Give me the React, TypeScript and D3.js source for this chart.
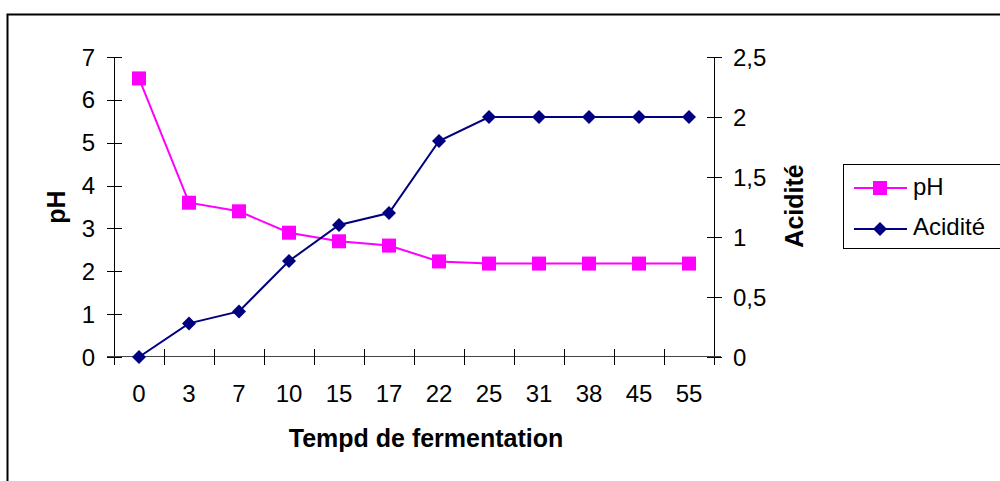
import React, {useEffect, useRef} from 'react';
import * as d3 from 'd3';

const width = 1000;
const height = 481;

const days = ['0', '3', '7', '10', '15', '17', '22', '25', '31', '38', '45', '55'];
const phValues = [6.5, 3.6, 3.4, 2.9, 2.7, 2.6, 2.23, 2.18, 2.18, 2.18, 2.18, 2.18];
const acidValues = [0, 0.28, 0.38, 0.8, 1.1, 1.2, 1.8, 2, 2, 2, 2, 2];
const phTicks = [0, 1, 2, 3, 4, 5, 6, 7];
const acidTicks = [0, 0.5, 1, 1.5, 2, 2.5];

const PINK = '#FF00FF';
const NAVY = '#000080';
const FONT = '"Liberation Sans", Arial, sans-serif';
const FS = 24;

const App = () => {
    const ref = useRef<SVGSVGElement>(null);

    useEffect(() => {
        const svg = d3.select(ref.current);
        svg.selectAll('*').remove();

        const left = 114, right = 714, top = 57, bottom = 357;

        const x = d3.scaleBand().domain(days).range([left, right]);
        const yPh = d3.scaleLinear().domain([0, 7]).range([bottom, top]);
        const yAc = d3.scaleLinear().domain([0, 2.5]).range([bottom, top]);

        // chart frame (cut off right and bottom)
        svg.append('path')
            .attr('d', `M7.5,${height + 2} L7.5,14.5 L${width + 2},14.5`)
            .attr('fill', 'none')
            .attr('stroke', '#000')
            .attr('stroke-width', 2);

        const cx = (d: string) => (x(d) as number) + x.bandwidth() / 2;

        // left axis
        const gl = svg.append('g');
        gl.append('line').attr('x1', left + 0.5).attr('x2', left + 0.5).attr('y1', top).attr('y2', bottom + 8)
            .attr('stroke', '#000');
        phTicks.forEach(t => {
            gl.append('line').attr('x1', left - 7).attr('x2', left + 8)
                .attr('y1', Math.round(yPh(t)) + 0.5).attr('y2', Math.round(yPh(t)) + 0.5)
                .attr('stroke', '#000');
            gl.append('text').attr('x', 95).attr('y', yPh(t) + 8.5)
                .attr('text-anchor', 'end').attr('font-size', FS).attr('font-family', FONT)
                .text(String(t));
        });

        // right axis
        const gr = svg.append('g');
        gr.append('line').attr('x1', right + 0.5).attr('x2', right + 0.5).attr('y1', top).attr('y2', bottom + 8)
            .attr('stroke', '#000');
        acidTicks.forEach(t => {
            gr.append('line').attr('x1', right - 7).attr('x2', right + 8)
                .attr('y1', Math.round(yAc(t)) + 0.5).attr('y2', Math.round(yAc(t)) + 0.5)
                .attr('stroke', '#000');
            gr.append('text').attr('x', 733).attr('y', yAc(t) + 8.5)
                .attr('font-size', FS).attr('font-family', FONT)
                .text(String(t).replace('.', ','));
        });

        // x axis
        const gx = svg.append('g');
        gx.append('line').attr('x1', left - 7).attr('x2', right + 7)
            .attr('y1', bottom - 0.5).attr('y2', bottom - 0.5).attr('stroke', '#444');
        d3.range(1, days.length).forEach(i => {
            const px = left + i * x.bandwidth();
            gx.append('line').attr('x1', Math.round(px) + 0.5).attr('x2', Math.round(px) + 0.5)
                .attr('y1', bottom - 8).attr('y2', bottom + 8).attr('stroke', '#000');
        });
        days.forEach(d => {
            gx.append('text').attr('x', cx(d)).attr('y', 402)
                .attr('text-anchor', 'middle').attr('font-size', FS).attr('font-family', FONT)
                .text(d);
        });

        // axis titles
        svg.append('text').attr('x', 426).attr('y', 447)
            .attr('text-anchor', 'middle').attr('font-size', 25).attr('font-weight', 'bold')
            .attr('font-family', FONT).text('Tempd de fermentation');
        svg.append('text').attr('transform', 'translate(65,207) rotate(-90)')
            .attr('text-anchor', 'middle').attr('font-size', 25).attr('font-weight', 'bold')
            .attr('font-family', FONT).text('pH');
        svg.append('text').attr('transform', 'translate(803,206) rotate(-90)')
            .attr('text-anchor', 'middle').attr('font-size', 25).attr('font-weight', 'bold')
            .attr('font-family', FONT).text('Acidité');

        // pH series
        const phLine = d3.line<number>().x((_, i) => cx(days[i])).y(d => yPh(d));
        svg.append('path').attr('d', phLine(phValues)).attr('fill', 'none')
            .attr('stroke', PINK).attr('stroke-width', 2);
        svg.selectAll('rect.ph').data(phValues).enter().append('rect')
            .attr('class', 'ph')
            .attr('x', (_, i) => cx(days[i]) - 7).attr('y', d => yPh(d) - 7)
            .attr('width', 14).attr('height', 14).attr('fill', PINK);

        // acidity series
        const acLine = d3.line<number>().x((_, i) => cx(days[i])).y(d => yAc(d));
        svg.append('path').attr('d', acLine(acidValues)).attr('fill', 'none')
            .attr('stroke', NAVY).attr('stroke-width', 2);
        const diamond = (px: number, py: number, r: number) =>
            `M${px},${py - r}L${px + r},${py}L${px},${py + r}L${px - r},${py}Z`;
        svg.selectAll('path.ac').data(acidValues).enter().append('path')
            .attr('class', 'ac')
            .attr('d', (d, i) => diamond(cx(days[i]), yAc(d), 7))
            .attr('fill', NAVY);

        // legend
        const lg = svg.append('g');
        lg.append('rect').attr('x', 843.5).attr('y', 164.5).attr('width', 170).attr('height', 84)
            .attr('fill', '#fff').attr('stroke', '#000');
        lg.append('line').attr('x1', 854).attr('x2', 907).attr('y1', 188).attr('y2', 188)
            .attr('stroke', PINK).attr('stroke-width', 2);
        lg.append('rect').attr('x', 873).attr('y', 181).attr('width', 14).attr('height', 14)
            .attr('fill', PINK);
        lg.append('text').attr('x', 913).attr('y', 195).attr('font-size', FS)
            .attr('font-family', FONT).text('pH');
        lg.append('line').attr('x1', 854).attr('x2', 907).attr('y1', 229).attr('y2', 229)
            .attr('stroke', NAVY).attr('stroke-width', 2);
        lg.append('path').attr('d', diamond(880, 229, 7)).attr('fill', NAVY);
        lg.append('text').attr('x', 913).attr('y', 235).attr('font-size', FS)
            .attr('font-family', FONT).text('Acidité');
    }, []);

    return (
        <svg ref={ref} width={width} height={height}
             style={{position: 'absolute', left: 0, top: 0, background: '#fff'}} />
    );
};

export default App;
